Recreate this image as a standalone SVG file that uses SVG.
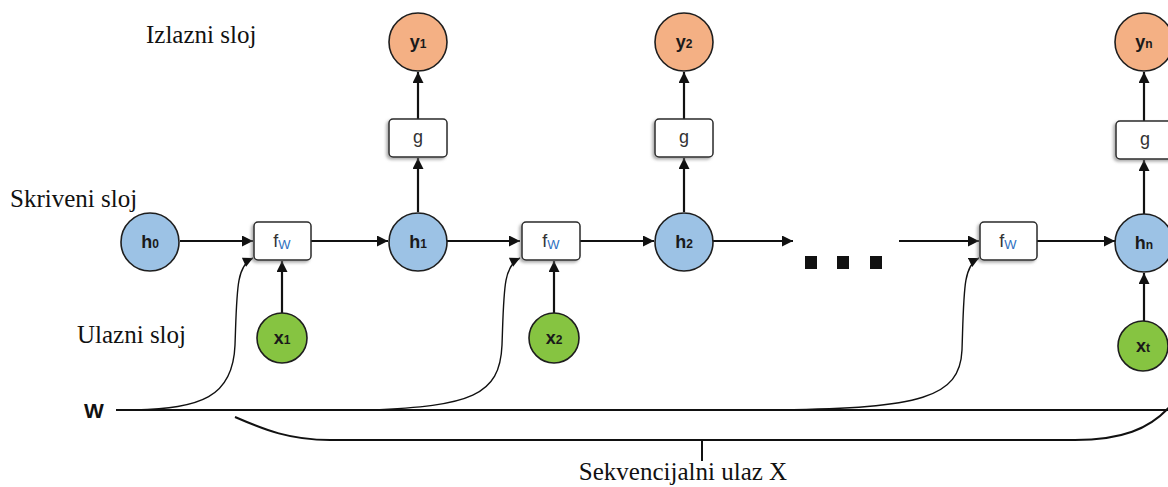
<svg xmlns="http://www.w3.org/2000/svg" width="1168" height="487" viewBox="0 0 1168 487">
<style>
.lbl{font-family:"Liberation Serif","Times New Roman",serif;font-size:25px;fill:#111}
.h{fill:#9cc2e5;stroke:#1e1e1e;stroke-width:1.6}
.y{fill:#f4b084;stroke:#1e1e1e;stroke-width:1.6}
.x{fill:#86c441;stroke:#1e1e1e;stroke-width:1.6}
.box{fill:#fff;stroke:#2a2a2a;stroke-width:1.5;filter:url(#sh)}
.nt{font-family:"Liberation Sans",Arial,sans-serif;font-weight:bold;font-size:18px;fill:#1a1a1a;text-anchor:middle}
.sub{font-size:12px}
.ft{font-family:"Liberation Sans",Arial,sans-serif;font-size:18px;fill:#333;text-anchor:middle}
.fs{font-size:13px;fill:#2e6fc0}
.ar{stroke:#111;stroke-width:2.2;fill:none;marker-end:url(#ah)}
.cv{stroke:#111;stroke-width:1.4;fill:none;marker-end:url(#as)}
</style>
<defs>
<filter id="sh" x="-20%" y="-20%" width="140%" height="150%">
<feDropShadow dx="-2" dy="2" stdDeviation="1.5" flood-color="#777" flood-opacity="0.6"/>
</filter>
<marker id="ah" viewBox="0 0 10 10" refX="10" refY="5" markerWidth="13" markerHeight="11" markerUnits="userSpaceOnUse" orient="auto">
<path d="M0,0 L10,5 L0,10 z" fill="#111"/>
</marker>
<marker id="as" viewBox="0 0 10 10" refX="10" refY="5" markerWidth="11" markerHeight="10" markerUnits="userSpaceOnUse" orient="auto">
<path d="M0,0 L10,5 L0,10 z" fill="#111"/>
</marker>
</defs>
<rect width="1168" height="487" fill="#fff"/>

<g id="labels">
<text class="lbl" x="146" y="43">Izlazni sloj</text>
<text class="lbl" x="10" y="207">Skriveni sloj</text>
<text class="lbl" x="77" y="343">Ulazni sloj</text>
<text class="lbl" x="683" y="480" text-anchor="middle">Sekvencijalni ulaz X</text>
<text x="94" y="418" font-family="Liberation Sans, Arial, sans-serif" font-weight="bold" font-size="21" fill="#111" text-anchor="middle">W</text>
</g>

<g id="connectors">
<line class="ar" x1="180" y1="241" x2="253" y2="241"/>
<line class="ar" x1="311" y1="241" x2="388" y2="241"/>
<line class="ar" x1="447" y1="241" x2="520" y2="241"/>
<line class="ar" x1="580" y1="241" x2="654" y2="241"/>
<line class="ar" x1="713" y1="241" x2="793" y2="241"/>
<line class="ar" x1="899" y1="241" x2="979" y2="241"/>
<line class="ar" x1="1037" y1="241" x2="1115" y2="241"/>
<line class="ar" x1="282" y1="313" x2="282" y2="261"/>
<line class="ar" x1="554" y1="313" x2="554" y2="261"/>
<line class="ar" x1="1144" y1="321" x2="1144" y2="273"/>
<line class="ar" x1="418" y1="212" x2="418" y2="158"/>
<line class="ar" x1="418" y1="119" x2="418" y2="72"/>
<line class="ar" x1="684" y1="212" x2="684" y2="158"/>
<line class="ar" x1="684" y1="119" x2="684" y2="72"/>
<line class="ar" x1="1144" y1="214" x2="1144" y2="160"/>
<line class="ar" x1="1144" y1="121" x2="1144" y2="72"/>
<line x1="116" y1="410" x2="1170" y2="410" stroke="#111" stroke-width="1.8"/>
<path class="cv" d="M135 410 C200 408 233 398 235 345 C237 290 236 266 253 258"/>
<path class="cv" d="M370 410 C470 406 500 396 502 345 C504 290 503 266 520 258"/>
<path class="cv" d="M780 410 C920 408 960 398 962 350 C964 290 963 266 979 258"/>
<path d="M235 417 C265 430 290 440 330 440 L1075 440 C1120 440 1150 430 1172 404" stroke="#111" stroke-width="2" fill="none"/>
<line x1="702" y1="440" x2="702" y2="461" stroke="#111" stroke-width="2"/>
</g>

<g id="dots" fill="#111">
<rect x="805" y="256" width="12" height="13"/>
<rect x="837" y="256" width="12" height="13"/>
<rect x="870" y="256" width="12" height="13"/>
</g>

<g id="h0"><circle class="h" cx="150" cy="242" r="29"/><text class="nt" x="150" y="248">h<tspan class="sub">0</tspan></text></g>
<g id="h1"><circle class="h" cx="418" cy="242" r="29"/><text class="nt" x="418" y="248">h<tspan class="sub">1</tspan></text></g>
<g id="h2"><circle class="h" cx="684" cy="242" r="29"/><text class="nt" x="684" y="248">h<tspan class="sub">2</tspan></text></g>
<g id="hn"><circle class="h" cx="1144" cy="243" r="29"/><text class="nt" x="1144" y="249">h<tspan class="sub">n</tspan></text></g>

<g id="y1"><circle class="y" cx="418" cy="42" r="29"/><text class="nt" x="418" y="48">y<tspan class="sub">1</tspan></text></g>
<g id="y2"><circle class="y" cx="684" cy="42" r="29"/><text class="nt" x="684" y="48">y<tspan class="sub">2</tspan></text></g>
<g id="yn"><circle class="y" cx="1144" cy="42" r="29"/><text class="nt" x="1144" y="48">y<tspan class="sub">n</tspan></text></g>

<g id="x1"><circle class="x" cx="282" cy="338" r="25"/><text class="nt" x="282" y="344">x<tspan class="sub">1</tspan></text></g>
<g id="x2"><circle class="x" cx="554" cy="338" r="25"/><text class="nt" x="554" y="344">x<tspan class="sub">2</tspan></text></g>
<g id="xt"><circle class="x" cx="1143" cy="346" r="25"/><text class="nt" x="1143" y="352">x<tspan class="sub">t</tspan></text></g>

<g id="fw1"><rect class="box" x="254" y="222" width="57" height="38" rx="4"/><text class="ft" x="282" y="247">f<tspan class="fs" dy="2">W</tspan></text></g>
<g id="fw2"><rect class="box" x="522" y="222" width="58" height="38" rx="4"/><text class="ft" x="551" y="247">f<tspan class="fs" dy="2">W</tspan></text></g>
<g id="fw3"><rect class="box" x="980" y="222" width="57" height="38" rx="4"/><text class="ft" x="1008" y="247">f<tspan class="fs" dy="2">W</tspan></text></g>

<g id="g1"><rect class="box" x="389" y="119" width="58" height="38" rx="4"/><text class="ft" x="418" y="143">g</text></g>
<g id="g2"><rect class="box" x="655" y="119" width="58" height="38" rx="4"/><text class="ft" x="684" y="143">g</text></g>
<g id="gn"><rect class="box" x="1116" y="121" width="60" height="38" rx="4"/><text class="ft" x="1145" y="145">g</text></g>
</svg>
